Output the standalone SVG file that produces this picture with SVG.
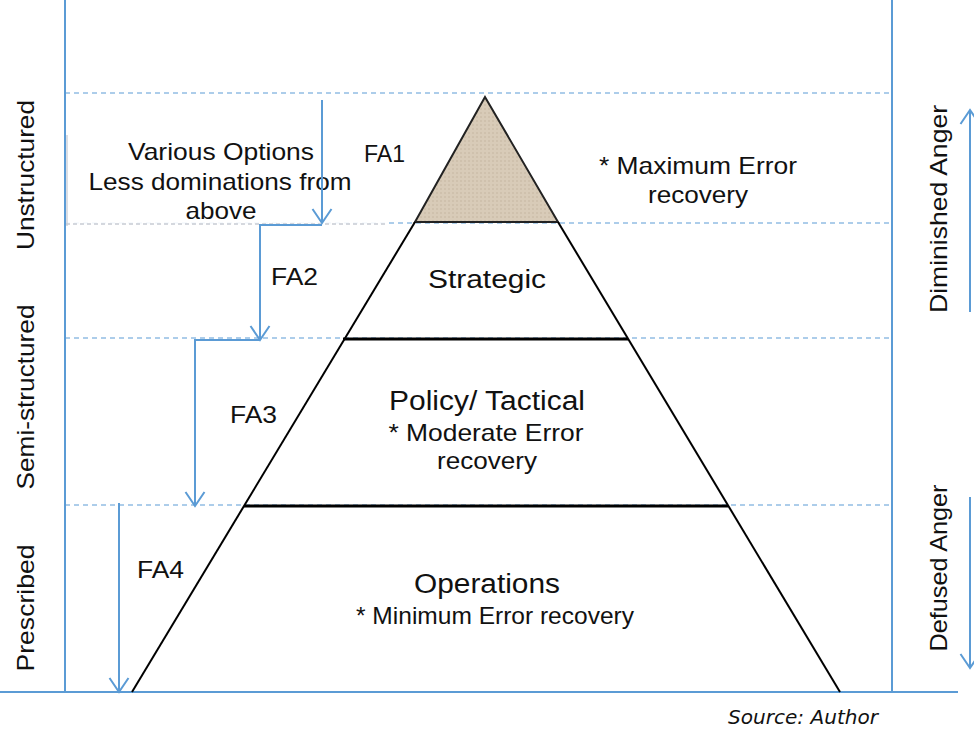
<svg xmlns="http://www.w3.org/2000/svg" width="974" height="730" viewBox="0 0 974 730">
  <defs>
    <style>
      .t { font-family: "Liberation Sans", Arial, sans-serif; fill: #111; font-size: 24px; }
      .blue { stroke: #5b9bd5; stroke-width: 2; fill: none; }
      .dash { stroke: #5b9bd5; stroke-width: 1; stroke-dasharray: 5 4; fill: none; }
      .edge { stroke: #000; stroke-width: 2; fill: none; }
    </style>
    <marker id="vhead" viewBox="0 0 20 22" refX="18" refY="11" markerWidth="20" markerHeight="22" markerUnits="userSpaceOnUse" orient="auto">
      <path d="M4,1.5 L18,11 L4,20.5" fill="none" stroke="#5b9bd5" stroke-width="2"/>
    </marker>
    <pattern id="burlap" width="4" height="4" patternUnits="userSpaceOnUse">
      <rect width="4" height="4" fill="#d8cbb8"/>
      <rect width="2" height="2" fill="#cfc1ad"/>
    </pattern>
  </defs>

  <rect width="974" height="730" fill="#fff"/>

  <!-- frame -->
  <g id="frame">
    <line class="blue" x1="65" y1="0" x2="65" y2="692"/>
    <line class="blue" x1="892" y1="0" x2="892" y2="692"/>
    <line class="blue" x1="0" y1="692" x2="958" y2="692"/>
    <line class="dash" x1="65" y1="93" x2="892" y2="93"/>
    <line class="dash" x1="65" y1="223" x2="892" y2="223"/>
    <line class="dash" x1="65" y1="338" x2="892" y2="338"/>
    <line class="dash" x1="65" y1="505" x2="892" y2="505"/>
  </g>

  <!-- pyramid -->
  <g id="apex">
    <polygon points="485,97 415,222 558,222" fill="url(#burlap)" stroke="#222" stroke-width="2"/>
  </g>
  <g id="pyramid-body">
    <line class="edge" x1="415" y1="222" x2="132" y2="692"/>
    <line class="edge" x1="558" y1="222" x2="840" y2="692"/>
    <line x1="343" y1="339" x2="628" y2="339" stroke="#000" stroke-width="3"/>
    <line x1="244" y1="506" x2="728" y2="506" stroke="#000" stroke-width="3"/>
  </g>

  <!-- note box -->
  <g id="note">
    <rect x="66" y="135" width="320" height="90" fill="#fff" fill-opacity="0.9"/>
    <line x1="67" y1="135" x2="67" y2="226" stroke="#d0d3da" stroke-width="1.5"/>
    <line x1="66" y1="224" x2="386" y2="224" stroke="#c8ccd4" stroke-width="1.5" stroke-dasharray="4 3"/>
    <text class="t" x="221" y="160" text-anchor="middle" textLength="186" lengthAdjust="spacingAndGlyphs">Various Options</text>
    <text class="t" x="220" y="190" text-anchor="middle" textLength="263" lengthAdjust="spacingAndGlyphs">Less dominations from</text>
    <text class="t" x="221" y="219" text-anchor="middle" textLength="71" lengthAdjust="spacingAndGlyphs">above</text>
  </g>

  <!-- connectors -->
  <g id="connectors">
    <path class="blue" d="M322,100 V223" marker-end="url(#vhead)"/>
    <path class="blue" d="M322,225 H260 V340" marker-end="url(#vhead)"/>
    <path class="blue" d="M260,340 H195 V506" marker-end="url(#vhead)"/>
    <path class="blue" d="M119,503 V692" marker-end="url(#vhead)"/>
    <path class="blue" d="M970,312 V110" marker-end="url(#vhead)"/>
    <path class="blue" d="M970,497 V668" marker-end="url(#vhead)"/>
  </g>

  <!-- flow labels -->
  <g id="fa-labels">
    <text class="t" x="364" y="162" textLength="41" lengthAdjust="spacingAndGlyphs">FA1</text>
    <text class="t" x="271" y="285" textLength="47" lengthAdjust="spacingAndGlyphs">FA2</text>
    <text class="t" x="230" y="423" textLength="47" lengthAdjust="spacingAndGlyphs">FA3</text>
    <text class="t" x="137" y="578" textLength="47" lengthAdjust="spacingAndGlyphs">FA4</text>
  </g>

  <!-- level texts -->
  <g id="top-level">
    <text class="t" x="698" y="174" text-anchor="middle" textLength="198" lengthAdjust="spacingAndGlyphs">* Maximum Error</text>
    <text class="t" x="698" y="203" text-anchor="middle" textLength="100" lengthAdjust="spacingAndGlyphs">recovery</text>
  </g>
  <g id="strategic">
    <text class="t" x="487" y="288" text-anchor="middle" style="font-size:26px" textLength="118" lengthAdjust="spacingAndGlyphs">Strategic</text>
  </g>
  <g id="tactical">
    <text class="t" x="487" y="410" text-anchor="middle" style="font-size:27px" textLength="196" lengthAdjust="spacingAndGlyphs">Policy/ Tactical</text>
    <text class="t" x="486" y="441" text-anchor="middle" textLength="195" lengthAdjust="spacingAndGlyphs">* Moderate Error</text>
    <text class="t" x="487" y="469" text-anchor="middle" textLength="100" lengthAdjust="spacingAndGlyphs">recovery</text>
  </g>
  <g id="operations">
    <text class="t" x="487" y="593" text-anchor="middle" style="font-size:27px" textLength="146" lengthAdjust="spacingAndGlyphs">Operations</text>
    <text class="t" x="495" y="624" text-anchor="middle" textLength="278" lengthAdjust="spacingAndGlyphs">* Minimum Error recovery</text>
  </g>

  <!-- side labels -->
  <g id="side-labels">
    <text class="t" text-anchor="middle" transform="translate(34,175) rotate(-90)" textLength="150" lengthAdjust="spacingAndGlyphs">Unstructured</text>
    <text class="t" text-anchor="middle" transform="translate(34,397) rotate(-90)" textLength="185" lengthAdjust="spacingAndGlyphs">Semi-structured</text>
    <text class="t" text-anchor="middle" transform="translate(34,608) rotate(-90)" textLength="127" lengthAdjust="spacingAndGlyphs">Prescribed</text>
    <text class="t" text-anchor="middle" transform="translate(947,209) rotate(-90)" textLength="208" lengthAdjust="spacingAndGlyphs">Diminished Anger</text>
    <text class="t" text-anchor="middle" transform="translate(947,568) rotate(-90)" textLength="167" lengthAdjust="spacingAndGlyphs">Defused Anger</text>
  </g>

  <text x="878" y="724" font-family="'DejaVu Sans', Verdana, sans-serif" font-style="italic" font-size="19" text-anchor="end" textLength="150" lengthAdjust="spacingAndGlyphs" fill="#111">Source: Author</text>
</svg>
